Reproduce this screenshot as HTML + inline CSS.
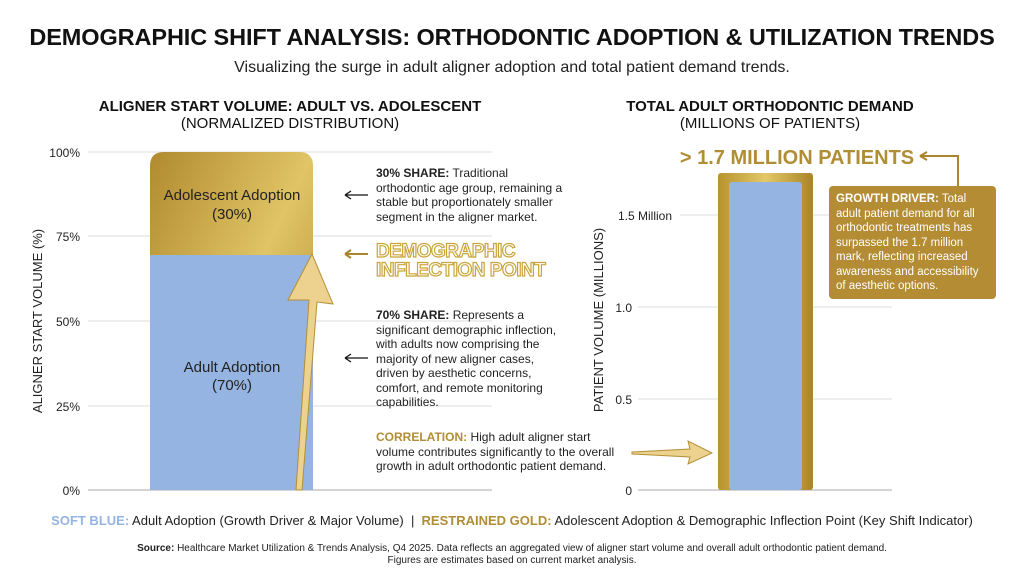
<!DOCTYPE html>
<html><head><meta charset="utf-8"><style>
body{margin:0;width:1024px;height:572px;background:#fff;font-family:"Liberation Sans",sans-serif;position:relative;overflow:hidden;color:#111}
.a{position:absolute;white-space:nowrap}
.c{text-align:center}
</style></head><body>
<div class="a c" style="left:0;width:1024px;top:24px;font-size:23.5px;font-weight:bold;letter-spacing:-0.1px">DEMOGRAPHIC SHIFT ANALYSIS: ORTHODONTIC ADOPTION &amp; UTILIZATION TRENDS</div>
<div class="a c" style="left:0;width:1024px;top:59px;font-size:16px;color:#222">Visualizing the surge in adult aligner adoption and total patient demand trends.</div>
<div class="a c" style="left:90px;width:400px;top:98px;font-size:15px;font-weight:bold;line-height:17px">ALIGNER START VOLUME: ADULT VS. ADOLESCENT<br><span style="font-weight:normal">(NORMALIZED DISTRIBUTION)</span></div>
<div class="a c" style="left:620px;width:300px;top:98px;font-size:15px;font-weight:bold;line-height:17px">TOTAL ADULT ORTHODONTIC DEMAND<br><span style="font-weight:normal">(MILLIONS OF PATIENTS)</span></div>
<svg class="a" style="left:0;top:0" width="1024" height="572">
<defs>
<linearGradient id="g" x1="0" x2="1" y1="0" y2="1"><stop offset="0" stop-color="#b08a2e"/><stop offset=".5" stop-color="#e0c466"/><stop offset="1" stop-color="#a8822a"/></linearGradient>
<linearGradient id="g2" x1="0" x2="1"><stop offset="0" stop-color="#b8922f"/><stop offset=".5" stop-color="#e2c868"/><stop offset="1" stop-color="#a98428"/></linearGradient>
</defs>
<g stroke="#ddd" stroke-width="1">
<line x1="88" x2="492" y1="152" y2="152"/><line x1="88" x2="492" y1="236" y2="236"/><line x1="88" x2="492" y1="321" y2="321"/><line x1="88" x2="492" y1="406" y2="406"/>
<line x1="680" x2="892" y1="215" y2="215"/><line x1="638" x2="892" y1="307" y2="307"/><line x1="638" x2="892" y1="399" y2="399"/>
</g>
<line x1="88" x2="492" y1="490" y2="490" stroke="#aaa"/>
<line x1="638" x2="892" y1="490" y2="490" stroke="#aaa"/>
<path d="M150,490V166Q150,152 164,152H299Q313,152 313,166V490Z" fill="url(#g)"/>
<rect x="150" y="255" width="163" height="235" fill="#95b4e1"/>
<path d="M296,490L309,300L288,300L312,254L333,304L317,302L302,490Z" fill="#ecd28e" stroke="#b49036" stroke-width="1"/>
<rect x="718" y="173" width="95" height="317" rx="3" fill="url(#g2)"/>
<rect x="729" y="182" width="73" height="308" rx="3" fill="#95b4e1"/>
<path d="M632,452L690,449L688,441L712,453L688,464L690,457L632,454Z" fill="#ecd28e" stroke="#b49036"/>
<g stroke="#111" stroke-width="1.3" fill="none"><path d="M345,195H368M345,195l6,-4M345,195l6,4"/><path d="M345,358H368M345,358l6,-4M345,358l6,4"/></g>
<g stroke="#a8862e" stroke-width="2" fill="none"><path d="M345,254H368M345,254l6,-4M345,254l6,4"/><path d="M920,156H958V186M920,156l7,-4M920,156l7,4"/></g>
<rect x="829" y="186" width="167" height="113" rx="4" fill="#b38c33"/>
<text x="0" y="0" transform="translate(42,321) rotate(-90)" text-anchor="middle" font-size="13" fill="#222">ALIGNER START VOLUME (%)</text>
<text x="0" y="0" transform="translate(603,320) rotate(-90)" text-anchor="middle" font-size="13" fill="#222">PATIENT VOLUME (MILLIONS)</text>
<g font-size="12" fill="#222" text-anchor="end">
<text x="80" y="157">100%</text><text x="80" y="241">75%</text><text x="80" y="326">50%</text><text x="80" y="411">25%</text><text x="80" y="495">0%</text>
<text x="672" y="220">1.5 Million</text><text x="632" y="312">1.0</text><text x="632" y="404">0.5</text><text x="632" y="495">0</text>
</g>
<g font-size="15" fill="#222" text-anchor="middle"><text x="232" y="200">Adolescent Adoption</text><text x="232" y="219">(30%)</text><text x="232" y="372">Adult Adoption</text><text x="232" y="390">(70%)</text></g>
<text x="376" y="257" font-size="19" font-weight="bold" fill="#fff" stroke="#c9a53c" stroke-width="1.2" letter-spacing="-0.5">DEMOGRAPHIC</text>
<text x="376" y="276" font-size="19" font-weight="bold" fill="#fff" stroke="#c9a53c" stroke-width="1.2" letter-spacing="-0.5">INFLECTION POINT</text>
<text x="797" y="164" text-anchor="middle" font-size="20" font-weight="bold" fill="#b08e36">&gt; 1.7 MILLION PATIENTS</text>
</svg>
<div class="a" style="left:376px;top:166px;font-size:12px;line-height:14.5px;color:#222"><b>30% SHARE:</b> Traditional<br>orthodontic age group, remaining a<br>stable but proportionately smaller<br>segment in the aligner market.</div>
<div class="a" style="left:376px;top:308px;font-size:12px;line-height:14.5px;color:#222"><b>70% SHARE:</b> Represents a<br>significant demographic inflection,<br>with adults now comprising the<br>majority of new aligner cases,<br>driven by aesthetic concerns,<br>comfort, and remote monitoring<br>capabilities.</div>
<div class="a" style="left:376px;top:430px;font-size:12px;line-height:14.5px;color:#222"><b style="color:#b08e36">CORRELATION:</b> High adult aligner start<br>volume contributes significantly to the overall<br>growth in adult orthodontic patient demand.</div>
<div class="a" style="left:836px;top:192px;font-size:11.5px;line-height:14.5px;color:#fff"><b>GROWTH DRIVER:</b> Total<br>adult patient demand for all<br>orthodontic treatments has<br>surpassed the 1.7 million<br>mark, reflecting increased<br>awareness and accessibility<br>of aesthetic options.</div>
<div class="a c" style="left:0;width:1024px;top:513px;font-size:13px;color:#222"><b style="color:#95b4e1">SOFT BLUE:</b> Adult Adoption (Growth Driver &amp; Major Volume) &nbsp;| &nbsp;<b style="color:#b08e36">RESTRAINED GOLD:</b> Adolescent Adoption &amp; Demographic Inflection Point (Key Shift Indicator)</div>
<div class="a c" style="left:0;width:1024px;top:543px;font-size:10px;line-height:12px;color:#222"><b>Source:</b> Healthcare Market Utilization &amp; Trends Analysis, Q4 2025. Data reflects an aggregated view of aligner start volume and overall adult orthodontic patient demand.<br>Figures are estimates based on current market analysis.</div>
</body></html>
